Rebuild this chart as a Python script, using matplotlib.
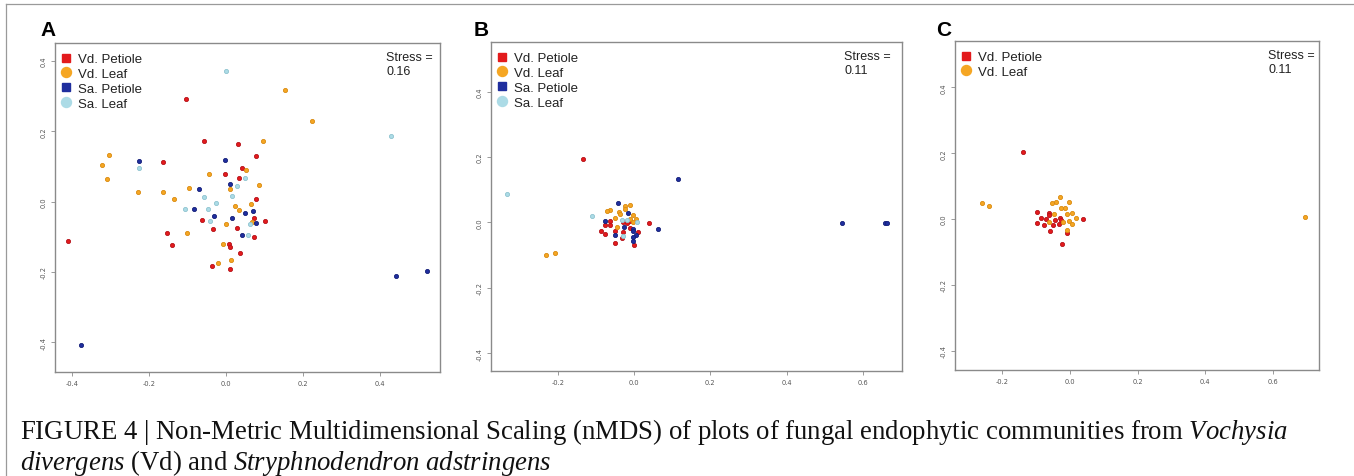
import matplotlib
matplotlib.use("Agg")
import matplotlib.pyplot as plt
from matplotlib.lines import Line2D

# ---------------- data ----------------
group_labels = ["Vd. Petiole", "Vd. Leaf", "Sa. Petiole", "Sa. Leaf"]

A_vd_petiole = [(-0.103, 0.293), (-0.057, 0.172), (0.032, 0.163), (-0.163, 0.112), (0.077, 0.129),
                (0.042, 0.097), (-0.003, 0.080), (0.033, 0.067), (0.078, 0.008), (-0.063, -0.053),
                (0.072, -0.046), (0.102, -0.055), (-0.033, -0.077), (0.028, -0.076), (-0.153, -0.089),
                (0.072, -0.101), (-0.410, -0.113), (-0.139, -0.123), (0.007, -0.119), (0.011, -0.128),
                (0.037, -0.146), (-0.037, -0.183), (0.010, -0.191)]
A_vd_leaf = [(0.154, 0.318), (0.224, 0.230), (0.095, 0.173), (-0.303, 0.133), (-0.323, 0.104),
             (-0.308, 0.064), (0.053, 0.091), (-0.045, 0.079), (0.085, 0.048), (0.010, 0.036),
             (-0.229, 0.029), (-0.164, 0.029), (-0.097, 0.038), (-0.135, 0.007), (0.023, -0.011),
             (0.066, -0.007), (0.033, -0.023), (0.067, -0.059), (0.000, -0.064), (-0.100, -0.089),
             (-0.007, -0.121), (0.014, -0.167), (-0.021, -0.175)]
A_sa_petiole = [(-0.227, 0.115), (-0.003, 0.120), (0.010, 0.050), (-0.071, 0.036), (-0.084, -0.021),
                (0.049, -0.031), (0.069, -0.026), (-0.032, -0.040), (0.017, -0.046), (0.079, -0.061),
                (0.043, -0.095), (0.443, -0.212), (0.521, -0.196), (-0.376, -0.407)]
A_sa_leaf = [(0.000, 0.373), (0.428, 0.188), (-0.227, 0.096), (0.050, 0.067), (0.030, 0.044),
             (-0.056, 0.013), (0.017, 0.017), (-0.026, -0.005), (-0.107, -0.020), (-0.047, -0.022),
             (-0.041, -0.055), (0.062, -0.064), (0.057, -0.094)]

B_vd_petiole = [(-0.133, 0.195), (0.040, -0.002), (-0.062, 0.004), (-0.028, 0.001), (-0.019, -0.002),
                (-0.012, 0.003), (-0.075, -0.007), (-0.062, -0.008), (-0.011, -0.017), (-0.088, -0.028),
                (-0.050, -0.026), (-0.028, -0.030), (0.010, -0.029), (-0.075, -0.036), (-0.033, -0.049),
                (-0.051, -0.063), (0.000, -0.070)]
B_vd_leaf = [(-0.231, -0.099), (-0.208, -0.094), (-0.024, 0.050), (-0.010, 0.052), (-0.023, 0.040),
             (-0.063, 0.039), (-0.070, 0.034), (-0.040, 0.033), (-0.038, 0.026), (-0.003, 0.021),
             (0.005, 0.011), (-0.049, 0.013), (-0.012, 0.010), (-0.003, 0.002), (-0.046, -0.014)]
B_sa_petiole = [(0.114, 0.132), (0.545, -0.001), (0.658, -0.003), (0.663, -0.001), (0.063, -0.020),
                (-0.043, 0.060), (-0.015, 0.030), (-0.075, 0.005), (-0.027, -0.015), (-0.003, -0.020),
                (-0.004, -0.028), (-0.049, -0.040), (0.006, -0.039), (-0.004, -0.046), (-0.004, -0.058)]
B_sa_leaf = [(-0.334, 0.088), (-0.111, 0.019), (-0.032, 0.006), (-0.018, 0.008), (0.007, 0.000),
             (-0.030, -0.043)]

C_vd_petiole = [(-0.138, 0.203), (-0.097, 0.020), (-0.062, 0.018), (-0.062, 0.012), (-0.086, 0.003),
                (-0.070, -0.001), (-0.044, -0.002), (-0.030, 0.003), (-0.026, -0.004), (0.040, 0.000),
                (-0.097, -0.011), (-0.076, -0.017), (-0.049, -0.018), (-0.032, -0.014), (-0.060, -0.038),
                (-0.010, -0.042), (-0.022, -0.076)]
C_vd_leaf = [(-0.260, 0.048), (-0.238, 0.038), (0.696, 0.006), (-0.030, 0.066), (-0.052, 0.049),
             (-0.041, 0.053), (-0.004, 0.051), (-0.026, 0.032), (-0.014, 0.034), (-0.046, 0.015),
             (-0.010, 0.016), (0.005, 0.019), (0.018, 0.003), (-0.020, -0.008), (-0.002, -0.005),
             (0.007, -0.014), (-0.063, -0.008), (-0.010, -0.032)]

panel_letters = ["A", "B", "C"]
stress_values = ["0.16", "0.11", "0.11"]
x_ticks = [[-0.4, -0.2, 0.0, 0.2, 0.4], [-0.2, 0.0, 0.2, 0.4, 0.6], [-0.2, 0.0, 0.2, 0.4, 0.6]]
y_ticks = [-0.4, -0.2, 0.0, 0.2, 0.4]

caption_line1 = r"FIGURE 4 | Non-Metric Multidimensional Scaling (nMDS) of plots of fungal endophytic communities from $\mathit{Vochysia}$"
caption_line2 = r"$\mathit{divergens}$ (Vd) and $\mathit{Stryphnodendron\ adstringens}$"

# ---------------- styling ----------------
plt.rcParams["mathtext.fontset"] = "custom"
plt.rcParams["mathtext.rm"] = "Liberation Serif"
plt.rcParams["mathtext.it"] = "Liberation Serif:italic"

colors = ["#e31a1c", "#f5a623", "#1f2e9e", "#acdbe6"]
edges = ["#b4121a", "#d98a10", "#141f78", "#8fc3cf"]
markers = ["s", "o", "s", "o"]

W, H = 1354, 477
fig = plt.figure(figsize=(W / 100, H / 100), dpi=100)


def add_px_axes(l, t, r, b):
    return fig.add_axes([l / W, 1 - b / H, (r - l) / W, (b - t) / H])


# axes boxes in pixels: left, top, right, bottom
boxes = [(55, 44, 440, 373), (491, 43, 902, 372), (955, 42, 1319, 371)]
xlims = [(-0.444, 0.556), (-0.375, 0.702), (-0.340, 0.737)]
ylims = [(-0.4845, 0.4515), (-0.455, 0.552), (-0.459, 0.541)]
panel_data = [[A_vd_petiole, A_vd_leaf, A_sa_petiole, A_sa_leaf],
              [B_vd_petiole, B_vd_leaf, B_sa_petiole, B_sa_leaf],
              [C_vd_petiole, C_vd_leaf]]
letter_x = [40, 474, 936]

frame_col = "#8a8a8a"
for i in range(3):
    l, t, r, b = boxes[i]
    ax = add_px_axes(l, t, r, b)
    groups = panel_data[i]
    for g, pts in enumerate(groups):
        xs = [p[0] for p in pts]
        ys = [p[1] for p in pts]
        ax.plot(xs, ys, ls="none", marker="o", ms=3.0, mfc=colors[g], mec=edges[g], mew=0.6)
    ax.set_xlim(*xlims[i])
    ax.set_ylim(*ylims[i])
    ax.set_xticks(x_ticks[i])
    ax.set_xticklabels([f"{v:.1f}" for v in x_ticks[i]])
    ax.set_yticks(y_ticks)
    ax.set_yticklabels([f"{v:.1f}" for v in y_ticks], rotation=90, va="center")
    ax.tick_params(length=3, width=0.6, color=frame_col, labelsize=4.8, labelcolor="#555555", pad=3)
    for sp in ax.spines.values():
        sp.set_color(frame_col)
        sp.set_linewidth(1.0)

    # legend
    handles = [Line2D([], [], ls="none", marker=markers[g], ms=6.3 if markers[g] == "s" else 7.2,
                      color=colors[g], mec=colors[g]) for g in range(len(groups))]
    leg = ax.legend(handles, group_labels[:len(groups)], loc="upper left",
                    bbox_to_anchor=((l + 4) / W, 1 - (t + 10) / H), bbox_transform=fig.transFigure,
                    frameon=False, borderpad=0, borderaxespad=0, handlelength=1.0,
                    handletextpad=0.45, labelspacing=0.2,
                    prop={"family": "Liberation Sans", "size": 9.5})
    for txt in leg.get_texts():
        txt.set_color("#222222")

    # stress
    ax.text(0.86, 0.975, "Stress =\n" + stress_values[i], transform=ax.transAxes, ha="left", va="top",
            fontsize=9, family="Liberation Sans", color="#222222", linespacing=1.2)

    fig.text(letter_x[i] / W, 1 - 36 / H, panel_letters[i], fontsize=15, fontweight="bold",
             family="Liberation Sans", va="baseline", ha="left")

# outer frame lines (top and left)
fig.add_artist(Line2D([6 / W, 6 / W], [0, 1 - 5 / H], transform=fig.transFigure, color="#9a9a9a", lw=0.9))
fig.add_artist(Line2D([6 / W, 1], [1 - 5 / H, 1 - 5 / H], transform=fig.transFigure, color="#9a9a9a", lw=0.9))

# caption
cap1 = fig.text(20 / W, 1 - 439 / H, caption_line1, family="Liberation Serif", fontsize=17,
                va="baseline", ha="left", color="#111111")
fig.canvas.draw()
rend = fig.canvas.get_renderer()
w1 = cap1.get_window_extent(rend).width
fs = 17 * (1269 / w1)
cap1.set_fontsize(fs)
cap2 = fig.text(20 / W, 1 - 470 / H, caption_line2, family="Liberation Serif", fontsize=fs,
                va="baseline", ha="left", color="#111111")

fig.savefig("out.png", dpi=100)
